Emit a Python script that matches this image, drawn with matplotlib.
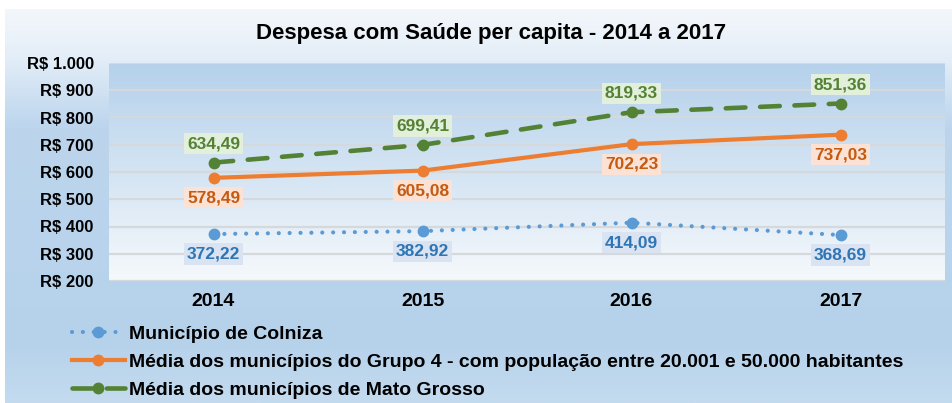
import numpy as np
import matplotlib
matplotlib.use("Agg")
import matplotlib.pyplot as plt
from matplotlib.colors import LinearSegmentedColormap
from matplotlib.ticker import FuncFormatter

anos = ["2014", "2015", "2016", "2017"]
colniza = [372.22, 382.92, 414.09, 368.69]
grupo4 = [578.49, 605.08, 702.23, 737.03]
mato_grosso = [634.49, 699.41, 819.33, 851.36]

nomes = [
    "Município de Colniza",
    "Média dos municípios do Grupo 4 - com população entre 20.001 e 50.000 habitantes",
    "Média dos municípios de Mato Grosso",
]

plt.rcParams["font.family"] = ["Liberation Sans", "DejaVu Sans"]
plt.rcParams["font.weight"] = "bold"

W, H = 952, 403
fig = plt.figure(figsize=(W / 100, H / 100), dpi=100)
fig.patch.set_facecolor("white")

# fundo em degradê da figura
bg = fig.add_axes([5 / W, 0, 1 - 5 / W, 1 - 9 / H], zorder=-10)
cm_bg = LinearSegmentedColormap.from_list(
    "bg", [(0, "#f3f7fb"), (0.12, "#e4eef8"), (0.30, "#bcd5ed"), (0.85, "#b6d2eb"), (1, "#c4dbef")]
)
bg.imshow(np.linspace(0, 1, 256).reshape(-1, 1), aspect="auto", cmap=cm_bg,
          extent=[0, 1, 1, 0])
bg.set_axis_off()

ax = fig.add_axes([109 / W, 1 - 281 / H, (945 - 109) / W, (281 - 63) / H])
cm_pa = LinearSegmentedColormap.from_list("pa", ["#b5d1eb", "#d4e4f3", "#f6f9fc"])
ax.imshow(np.linspace(0, 1, 256).reshape(-1, 1), aspect="auto", cmap=cm_pa,
          extent=[-0.5, 3.5, 200, 1000], origin="upper", zorder=0)

x = np.arange(len(anos))
ax.set_xlim(-0.5, 3.5)
ax.set_ylim(200, 1000)
ax.set_yticks(range(200, 1001, 100))
ax.yaxis.set_major_formatter(FuncFormatter(lambda v, p: "R$ " + f"{int(v):,}".replace(",", ".")))
ax.set_xticks(x)
ax.set_xticklabels(anos)
ax.grid(axis="y", color="#d6d9dc", lw=1.6, zorder=1)
for s in ax.spines.values():
    s.set_visible(False)
ax.tick_params(axis="y", length=0, pad=11, labelsize=12)
ax.tick_params(axis="x", length=0, pad=9, labelsize=14)

azul, laranja, verde = "#5b9bd5", "#ed7d31", "#548235"

ax.plot(x, colniza, color=azul, lw=3, linestyle=(0, (0.01, 2.6)),
        dash_capstyle="round", marker="o", ms=7.5, zorder=3, label=nomes[0])
ax.plot(x, grupo4, color=laranja, lw=3, marker="o", ms=7.5, zorder=3, label=nomes[1])
ax.plot(x, mato_grosso, color=verde, lw=3.3, linestyle=(0, (4.3, 3.2)),
        dash_capstyle="round", marker="o", ms=7.5, zorder=3, label=nomes[2])

def rotulo(v):
    return f"{v:.2f}".replace(".", ",")

estilos = [
    (colniza, "#2e75b6", "#d9e3f2", -20),
    (grupo4, "#c55a11", "#fbe2d5", -20),
    (mato_grosso, "#548235", "#e2efda", 19),
]
for serie, cor_txt, cor_box, dy in estilos:
    for xi, v in zip(x, serie):
        ax.annotate(rotulo(v), (xi, v), xytext=(0, dy), textcoords="offset pixels",
                    ha="center", va="center", fontsize=12.5, fontweight="bold", color=cor_txt,
                    bbox=dict(boxstyle="square,pad=0.18", fc=cor_box, ec="none"), zorder=4)

fig.text(0.516, 1 - 34 / H, "Despesa com Saúde per capita - 2014 a 2017",
         ha="center", va="center", fontsize=16, fontweight="bold")

fig.legend(loc="upper left", bbox_to_anchor=(72 / W, 1 - 325 / H), frameon=False,
           fontsize=14, handlelength=2.7, handletextpad=0.25, labelspacing=0.55,
           borderaxespad=0, borderpad=0, numpoints=1)

fig.savefig("out.png", dpi=100)
